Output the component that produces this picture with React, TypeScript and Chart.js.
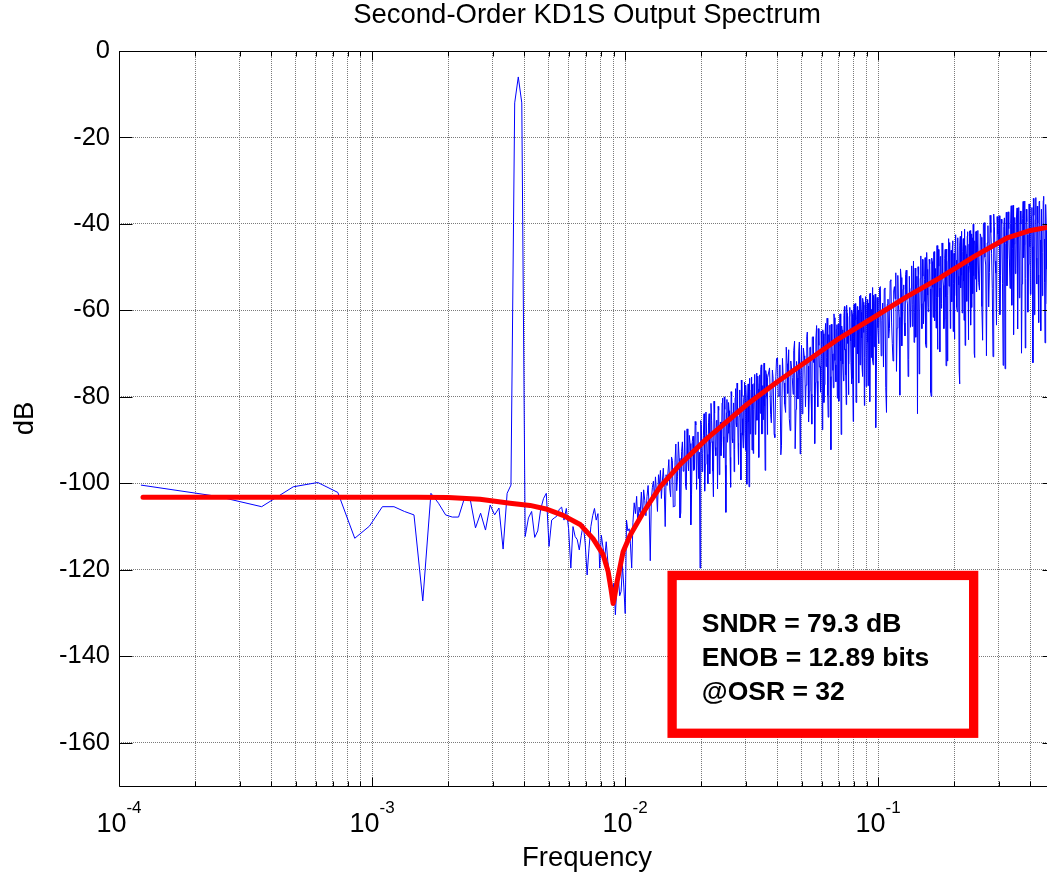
import React, { useEffect, useRef } from 'react';
import { Chart, registerables } from 'chart.js';

Chart.register(...registerables);

// ---------------- data ----------------
const FFT_POINTS = 8192;

// Blue output spectrum (dB), per FFT-bin segment
const BLUE_SEGMENT_FIRST_BIN = [1, 122, 123, 305, 308, 812, 818, 2030, 2045];
const BLUE_SEGMENT_BIN_STEP = [1, 2, 2, 5, 5, 12, 12, 30, 30];

const BLUE_DB_A = [
  -100.4, -103.0, -105.4, -100.8, -99.8, -102.1, -112.7, -109.9, -105.4, -105.4,
  -106.5, -107.3, -127.2, -102.3, -104.6, -107.3, -107.8, -107.8, -103.4, -103.6,
  -110.3, -106.9, -110.8, -105.0, -107.3, -105.7, -115.2, -102.3, -100.4, -12.0,
  -6.0, -12.0, -112.3, -108.0, -106.5, -112.5, -111.0, -106.0, -103.5, -102.3,
  -114.6, -108.5, -108.0, -107.6, -106.0, -105.5, -108.5, -105.8, -110.5, -119.6,
  -110.0, -112.3, -113.0, -115.4, -112.0, -109.5, -114.0, -121.2, -115.0, -110.0,
  -107.5, -105.8, -108.5, -107.0, -119.6, -112.0, -114.8, -117.5, -113.5, -118.0,
  -121.0, -123.1, -125.5, -123.1, -130.4, -124.0, -121.5, -126.0, -125.0, -119.0,
  -124.0, -130.1, -108.5, -111.0, -110.5, -114.0, -119.6, -109.0, -104.5, -107.0,
  -103.0, -109.5, -105.5, -106.8, -102.0, -108.0, -101.5, -104.0, -107.5, -103.0,
  -100.5, -105.5, -117.9, -104.0, -101.0, -99.5, -103.5, -98.5, -102.0, -106.5,
  -98.0, -100.5, -97.0, -103.5, -99.5, -96.5, -101.0, -110.0, -98.0, -100.5,
];
const BLUE_DB_B = [
  -94.5, -103.1, -94.7, -105.3, -90.9, -98.5, -94.2, -106.8, -90.4, -96.0,
  -100.7, -87.4, -97.1, -90.8, -102.5, -89.1, -96.8, -86.5, -92.2, -98.9,
  -119.6, -86.4, -93.1, -83.9, -95.6, -88.4, -100.1, -83.9, -90.6, -85.4,
  -97.2, -81.0, -91.7, -85.5, -101.3, -83.1, -87.9, -93.6, -81.4, -89.2,
  -80.0, -95.8, -83.7, -90.5, -81.3, -87.1, -100.9, -79.8, -90.6, -81.4,
  -92.2, -78.1, -86.9, -82.8, -95.6, -79.4, -88.3, -76.1, -85.0, -91.8,
  -79.6, -88.5, -77.3, -100.2, -80.0, -85.9, -75.7, -88.6, -78.4, -92.3,
  -77.1, -83.0, -74.8, -88.7, -79.5, -85.4, -75.2, -93.1, -76.9, -83.8,
  -73.7, -88.6, -77.5, -85.3, -72.2, -82.1, -94.0, -74.8, -80.7, -75.6,
];
const BLUE_DB_B2 = [
  -101.3, -93.9, -105.5, -95.1, -101.7, -90.4, -108.0, -92.6, -97.2, -87.8,
  -101.5, -94.2, -88.9, -109.6, -90.3, -97.0, -85.7, -101.4, -88.1, -92.8,
  -85.5, -97.3, -89.0, -101.8, -83.5, -93.3, -86.0, -97.8, -81.5, -90.3,
  -103.1, -83.8, -93.6, -85.4, -82.2, -98.0, -85.8, -90.5, -80.3, -94.1,
  -82.9, -106.7, -80.6, -88.4, -83.2, -94.0, -78.8, -89.7, -83.5, -97.3,
  -80.2, -86.0, -76.8, -90.7, -84.5, -78.4, -99.2, -80.0, -88.9, -80.7,
  -76.6, -92.4, -81.2, -86.1, -77.0, -100.8, -78.7, -88.5, -75.4, -83.2,
  -93.1, -76.9, -79.8, -88.6, -74.5, -85.3, -78.2, -94.0, -74.9, -82.8,
  -72.6, -88.5, -77.4, -85.3, -75.2, -97.0, -73.9, -79.8, -88.7,
];
const BLUE_DB_C = [
  -73.3, -86.0, -75.7, -89.4, -71.1, -79.9, -72.6, -91.3, -75.0, -81.7,
  -68.5, -79.2, -85.0, -71.7, -75.5, -69.3, -92.0, -71.8, -80.5, -67.3,
  -75.1, -83.9, -68.7, -71.5, -77.3, -65.0, -85.8, -68.6, -79.4, -66.2,
  -72.0, -90.8, -66.6, -76.4, -64.2, -73.1, -78.9, -67.7, -64.5, -81.3,
  -66.1, -73.0, -61.8, -84.7, -67.5, -75.3, -63.2, -70.0, -77.9, -61.7,
  -72.6, -64.4, -80.3, -63.1, -68.0, -60.8, -88.7, -64.5, -72.4, -61.2,
  -69.1, -74.9, -58.8, -67.6, -79.5, -61.4, -64.2, -72.1, -59.9, -75.8,
  -61.7, -68.5, -58.4, -81.3, -62.1, -70.0, -59.9, -64.8, -72.6, -56.5,
  -66.4, -75.3, -58.1, -62.0, -70.9, -56.8, -77.6, -59.5, -67.4, -58.3,
  -64.2, -81.1, -56.0, -65.9, -59.7, -71.6, -56.5, -68.4, -58.3, -74.2,
];
const BLUE_DB_C2 = [
  -84.1, -73.8, -88.6, -75.3, -71.0, -79.7, -93.4, -71.1, -76.8, -83.6,
  -72.3, -69.1, -87.8, -73.6, -79.4, -67.1, -82.9, -75.6, -69.4, -93.2,
  -68.0, -76.8, -70.5, -82.3, -66.1, -72.9, -78.7, -68.5, -86.3, -66.1,
  -69.9, -76.7, -63.5, -82.3, -68.1, -73.0, -64.8, -87.6, -65.4, -77.2,
  -63.0, -70.9, -79.7, -65.6, -63.4, -92.2, -67.1, -73.9, -60.8, -71.6,
  -76.5, -63.3, -65.2, -81.0, -60.9, -71.7, -63.6, -67.4, -76.3, -59.1,
  -69.0, -81.8, -60.7, -64.6, -72.4, -59.3, -67.1, -77.0, -60.9, -85.7,
  -58.6, -68.5, -62.3, -72.2, -59.1, -64.9, -76.8, -56.7, -68.6, -60.4,
  -73.3, -57.2, -65.1, -82.0, -58.8, -61.7, -69.6, -57.5, -77.4, -59.2,
  -56.1, -66.0, -70.9, -59.8, -54.7, -72.6, -60.5, -67.4, -56.2, -87.1,
];
const BLUE_DB_D = [
  -57.0, -67.7, -54.5, -62.3, -73.1, -54.8, -83.6, -57.4, -64.2, -52.9,
  -67.7, -55.5, -57.3, -74.1, -51.9, -61.6, -50.4, -68.2, -55.1, -62.9,
  -51.7, -57.5, -75.3, -52.1, -63.9, -49.7, -58.6, -67.4, -50.2, -54.1,
  -83.9, -51.7, -60.6, -47.4, -64.2, -52.1, -57.9, -47.8, -68.6, -50.5,
  -60.3, -48.2, -55.0, -79.9, -48.7, -61.6, -46.4, -53.3, -64.1, -45.0,
  -56.9, -49.8, -69.6, -47.5, -58.4, -45.3, -54.2, -62.0, -45.9, -72.8,
  -47.7, -56.6, -43.4, -51.3, -64.2, -46.1, -58.0, -43.9, -53.8, -66.6,
  -44.5, -48.4, -59.3, -43.2, -52.1, -74.0, -44.9, -54.8, -41.7, -60.6,
  -46.4, -53.3, -42.2, -68.1, -45.0, -55.9, -42.8, -49.8, -60.7, -41.6,
  -51.5, -63.4, -42.3, -46.2, -56.1, -40.0, -69.9, -43.9, -52.8, -41.7,
];
const BLUE_DB_D2 = [
  -64.0, -54.7, -70.5, -58.3, -55.1, -77.8, -58.6, -66.4, -53.2, -62.9,
  -71.7, -54.5, -51.3, -64.1, -58.9, -79.6, -52.4, -60.2, -54.1, -65.9,
  -50.7, -58.5, -71.3, -52.1, -54.9, -63.7, -48.6, -60.4, -66.2, -52.1,
  -49.9, -74.7, -52.6, -58.4, -48.2, -63.1, -52.9, -67.8, -46.6, -56.5,
  -59.3, -49.2, -79.0, -47.9, -54.7, -46.6, -62.4, -50.3, -57.1, -69.0,
  -45.9, -54.8, -47.6, -59.5, -44.4, -52.3, -64.2, -48.0, -56.9, -45.8,
  -71.7, -48.6, -54.4, -44.3, -59.2, -49.1, -45.0, -64.9, -46.8, -56.6,
  -42.5, -51.4, -60.3, -45.2, -54.1, -77.0, -42.9, -51.8, -46.7, -56.6,
  -43.4, -62.3, -41.2, -52.1, -47.0, -57.9, -41.8, -66.8, -44.7, -49.6,
  -41.5, -54.4, -59.3, -43.2, -40.1, -52.0, -70.9, -44.9, -41.8, -55.7,
];
const BLUE_DB_E = [
  -41.5, -55.3, -43.1, -66.9, -39.7, -49.5, -44.4, -59.2, -38.0, -46.9,
  -70.7, -40.6, -51.4, -38.3, -45.1, -61.0, -38.9, -53.7, -40.6, -73.5,
  -37.3, -48.2, -41.1, -54.9, -35.8, -45.7, -65.6, -38.5, -50.4, -36.3,
  -43.2, -57.1, -37.0, -69.9, -38.8, -47.8, -34.7, -52.6, -39.5, -60.4,
  -35.4, -45.3, -50.2, -36.2, -72.1, -38.0, -43.0, -33.9, -53.9, -39.8,
  -62.8, -34.7, -47.7, -36.6, -56.6, -34.6, -43.5, -67.5, -35.5, -50.5,
  -38.5, -58.4, -33.4, -45.4, -37.4, -64.4, -34.4, -48.4, -36.4,
];
const BLUE_DB_E2 = [
  -53.5, -42.3, -59.1, -39.9, -47.7, -70.5, -40.4, -51.2, -42.0, -54.9,
  -37.7, -48.6, -63.4, -42.3, -38.1, -52.0, -39.9, -72.7, -38.6, -44.5,
  -54.3, -37.2, -48.1, -39.9, -58.8, -35.7, -44.6, -51.5, -38.4, -64.3,
  -36.2, -48.1, -40.0, -53.9, -34.8, -44.8, -68.7, -36.6, -42.5, -49.4,
  -35.4, -56.3, -38.2, -45.2, -34.1, -61.0, -39.0, -47.9, -35.9, -51.8,
  -34.8, -43.7, -64.7, -36.6, -46.6, -33.6, -53.5, -38.5, -41.5, -58.5,
  -34.5, -45.4, -37.4, -68.4, -33.4, -42.4, -50.4, -35.4,
];
const BLUE_SEGMENT_DB = [
  BLUE_DB_A, BLUE_DB_B, BLUE_DB_B2, BLUE_DB_C, BLUE_DB_C2,
  BLUE_DB_D, BLUE_DB_D2, BLUE_DB_E, BLUE_DB_E2,
];

// Red smooth curve
const RED_FREQ = [
  1.244e-4, 2e-4, 5e-4, 1e-3, 1.5e-3, 2e-3, 2.67e-3, 3.51e-3, 4.21e-3, 4.92e-3,
  5.69e-3, 6.64e-3, 7.47e-3, 8.19e-3, 8.57e-3, 8.8e-3, 8.97e-3, 9.1e-3, 9.3e-3, 9.82e-3,
  1.047e-2, 1.178e-2, 1.375e-2, 1.65e-2, 2.11e-2, 3.04e-2, 4e-2, 5.24e-2, 7e-2, 9.56e-2,
  0.13, 0.176, 0.24, 0.324, 0.4, 0.466, 0.5,
];
const RED_DB = [
  -103.2, -103.2, -103.2, -103.2, -103.2, -103.3, -103.7, -104.6, -105.1, -106.0,
  -107.4, -109.5, -112.8, -116.5, -120.4, -124.5, -127.8, -126.0, -122.7, -115.8,
  -112.0, -106.8, -100.8, -95.6, -89.6, -81.7, -76.5, -71.7, -66.5, -61.7,
  -56.8, -52.4, -47.5, -43.2, -41.5, -40.8, -40.6,
];

// Axes
const Y_TICKS = [-160, -140, -120, -100, -80, -60, -40, -20, 0];
const X_DECADE_EXPONENTS = [-4, -3, -2, -1];
const X_MINOR_MULTIPLIERS = [1, 2, 3, 4, 5, 6, 7, 8, 9];

const TITLE_TEXT = 'Second-Order KD1S Output Spectrum';
const X_TITLE = 'Frequency';
const Y_TITLE = 'dB';
const ANNOTATION_LINES = ['SNDR = 79.3 dB', 'ENOB = 12.89 bits', '@OSR = 32'];

// ---------------- layout / style ----------------
const FONT = "'Liberation Sans', Arial, Helvetica, sans-serif";
const CANVAS_W = 1070;
const CANVAS_H = 873;
const X_MIN = 1e-4;
const X_MAX = 0.5;
const Y_MIN = -170;
const Y_MAX = 0;

// annotation box placed in data coordinates
const ANNOT = {
  fLeft: 0.01534, fRight: 0.2385, dbTop: -121.3, dbBottom: -157.8,
  textF: 0.0201, textDb: [-134.3, -142.2, -150.1],
};

const gridValues: number[] = [];
X_DECADE_EXPONENTS.forEach((e) => {
  X_MINOR_MULTIPLIERS.forEach((m) => {
    const v = m * Math.pow(10, e);
    if (v <= X_MAX + 1e-12) gridValues.push(v);
  });
});

const bluePoints: { x: number; y: number }[] = [];
BLUE_SEGMENT_DB.forEach((dbs, s) => {
  dbs.forEach((db, i) => {
    const bin = BLUE_SEGMENT_FIRST_BIN[s] + i * BLUE_SEGMENT_BIN_STEP[s];
    bluePoints.push({ x: bin / FFT_POINTS, y: db });
  });
});
bluePoints.sort((a, b) => a.x - b.x);
const redPoints = RED_FREQ.map((f, i) => ({ x: f, y: RED_DB[i] }));

const matlabAxesPlugin = {
  id: 'matlabAxes',
  afterDraw(chart: any) {
    const { ctx, chartArea, scales } = chart;
    const { left, right, top, bottom } = chartArea;
    const L = Math.round(left) + 0.5;
    const R = Math.round(right) + 0.5;
    const T = Math.round(top) + 0.5;
    const B = Math.round(bottom) + 0.5;
    ctx.save();
    ctx.strokeStyle = '#000';
    ctx.lineWidth = 1;
    ctx.setLineDash([]);
    ctx.beginPath();
    Y_TICKS.forEach((v) => {
      const y = Math.round(scales.y.getPixelForValue(v)) + 0.5;
      ctx.moveTo(L, y); ctx.lineTo(L + 13, y);
      ctx.moveTo(R, y); ctx.lineTo(R - 13, y);
    });
    gridValues.forEach((v, i) => {
      const x = Math.round(scales.x.getPixelForValue(v)) + 0.5;
      const major = i % X_MINOR_MULTIPLIERS.length === 0;
      const len = major ? 9 : 5;
      ctx.moveTo(x, B); ctx.lineTo(x, B - len);
      ctx.moveTo(x, T); ctx.lineTo(x, T + len);
    });
    ctx.moveTo(L, T); ctx.lineTo(R, T); ctx.lineTo(R, B); ctx.lineTo(L, B); ctx.closePath();
    ctx.stroke();

    // x tick labels 10^e
    ctx.fillStyle = '#000';
    ctx.textAlign = 'left';
    ctx.textBaseline = 'alphabetic';
    X_DECADE_EXPONENTS.forEach((e) => {
      const x = scales.x.getPixelForValue(Math.pow(10, e));
      const base = '10';
      const exp = String(e);
      ctx.font = `27px ${FONT}`;
      const w1 = ctx.measureText(base).width;
      ctx.font = `17px ${FONT}`;
      const w2 = ctx.measureText(exp).width;
      const start = x - (w1 + w2) / 2;
      ctx.font = `27px ${FONT}`;
      ctx.fillText(base, start, 832);
      ctx.font = `17px ${FONT}`;
      ctx.fillText(exp, start + w1, 813);
    });
    ctx.restore();
  },
};

const annotationPlugin = {
  id: 'sndrBox',
  afterDatasetsDraw(chart: any) {
    const { ctx, scales } = chart;
    const x1 = scales.x.getPixelForValue(ANNOT.fLeft);
    const x2 = scales.x.getPixelForValue(ANNOT.fRight);
    const y1 = scales.y.getPixelForValue(ANNOT.dbTop);
    const y2 = scales.y.getPixelForValue(ANNOT.dbBottom);
    ctx.save();
    ctx.setLineDash([]);
    ctx.fillStyle = '#fff';
    ctx.fillRect(x1, y1, x2 - x1, y2 - y1);
    ctx.strokeStyle = '#ff0000';
    ctx.lineWidth = 9.3;
    ctx.strokeRect(x1, y1, x2 - x1, y2 - y1);
    ctx.fillStyle = '#000';
    ctx.font = `bold 26.5px ${FONT}`;
    ctx.textAlign = 'left';
    ctx.textBaseline = 'alphabetic';
    const tx = scales.x.getPixelForValue(ANNOT.textF);
    ANNOTATION_LINES.forEach((line, i) => {
      ctx.fillText(line, tx, scales.y.getPixelForValue(ANNOT.textDb[i]));
    });
    ctx.restore();
  },
};

export default function App() {
  const ref = useRef<HTMLCanvasElement | null>(null);

  useEffect(() => {
    if (!ref.current) return;
    Chart.defaults.font.family = FONT;
    const chart = new Chart(ref.current, {
      type: 'line',
      data: {
        datasets: [
          {
            label: 'theory',
            data: redPoints,
            borderColor: '#ff0000',
            borderWidth: 5,
            pointRadius: 0,
            tension: 0,
            borderCapStyle: 'round',
            borderJoinStyle: 'round',
            fill: false,
            order: 0,
          },
          {
            label: 'spectrum',
            data: bluePoints,
            borderColor: '#0000ff',
            borderWidth: 1,
            pointRadius: 0,
            tension: 0,
            fill: false,
            order: 1,
          },
        ],
      },
      options: {
        responsive: false,
        animation: false,
        parsing: false,
        events: [],
        devicePixelRatio: 1,
        layout: { padding: { left: 0, right: CANVAS_W - 1055, top: 0, bottom: 0 } },
        plugins: {
          legend: { display: false },
          tooltip: { enabled: false },
          title: {
            display: true,
            text: TITLE_TEXT,
            color: '#000',
            fullSize: false,
            font: { family: FONT, size: 27.5, weight: 'normal', lineHeight: 1.12 },
            padding: { top: 0, bottom: 20.2 },
          },
        },
        scales: {
          x: {
            type: 'logarithmic',
            min: X_MIN,
            max: X_MAX,
            afterBuildTicks: (s: any) => {
              s.ticks = gridValues.map((v) => ({ value: v }));
            },
            afterFit: (s: any) => {
              s.height = CANVAS_H - 786;
            },
            ticks: { display: false },
            grid: { color: '#7a7a7a', lineWidth: 1, drawTicks: false },
            border: { display: false, dash: [1, 1] },
            title: {
              display: true,
              text: X_TITLE,
              color: '#000',
              font: { family: FONT, size: 27.5, weight: 'normal', lineHeight: 1 },
              padding: { top: 0, bottom: 1 },
            },
          },
          y: {
            type: 'linear',
            min: Y_MIN,
            max: Y_MAX,
            afterBuildTicks: (s: any) => {
              s.ticks = Y_TICKS.map((v) => ({ value: v }));
            },
            afterFit: (s: any) => {
              s.width = 119;
            },
            ticks: {
              color: '#000',
              padding: 9,
              font: { family: FONT, size: 25.5 },
            },
            grid: { color: '#7a7a7a', lineWidth: 1, drawTicks: false },
            border: { display: false, dash: [1, 1] },
            title: {
              display: true,
              text: Y_TITLE,
              color: '#000',
              font: { family: FONT, size: 27.5, weight: 'normal', lineHeight: 1.2 },
              padding: { top: 9.2, bottom: 0 },
            },
          },
        },
      },
      plugins: [annotationPlugin, matlabAxesPlugin],
    } as any);
    return () => chart.destroy();
  }, []);

  return (
    <div
      style={{
        position: 'fixed',
        left: 0,
        top: 0,
        width: 1047,
        height: 873,
        overflow: 'hidden',
        background: '#fff',
      }}
    >
      <canvas
        ref={ref}
        width={CANVAS_W}
        height={CANVAS_H}
        style={{ display: 'block', width: CANVAS_W, height: CANVAS_H }}
      />
    </div>
  );
}
